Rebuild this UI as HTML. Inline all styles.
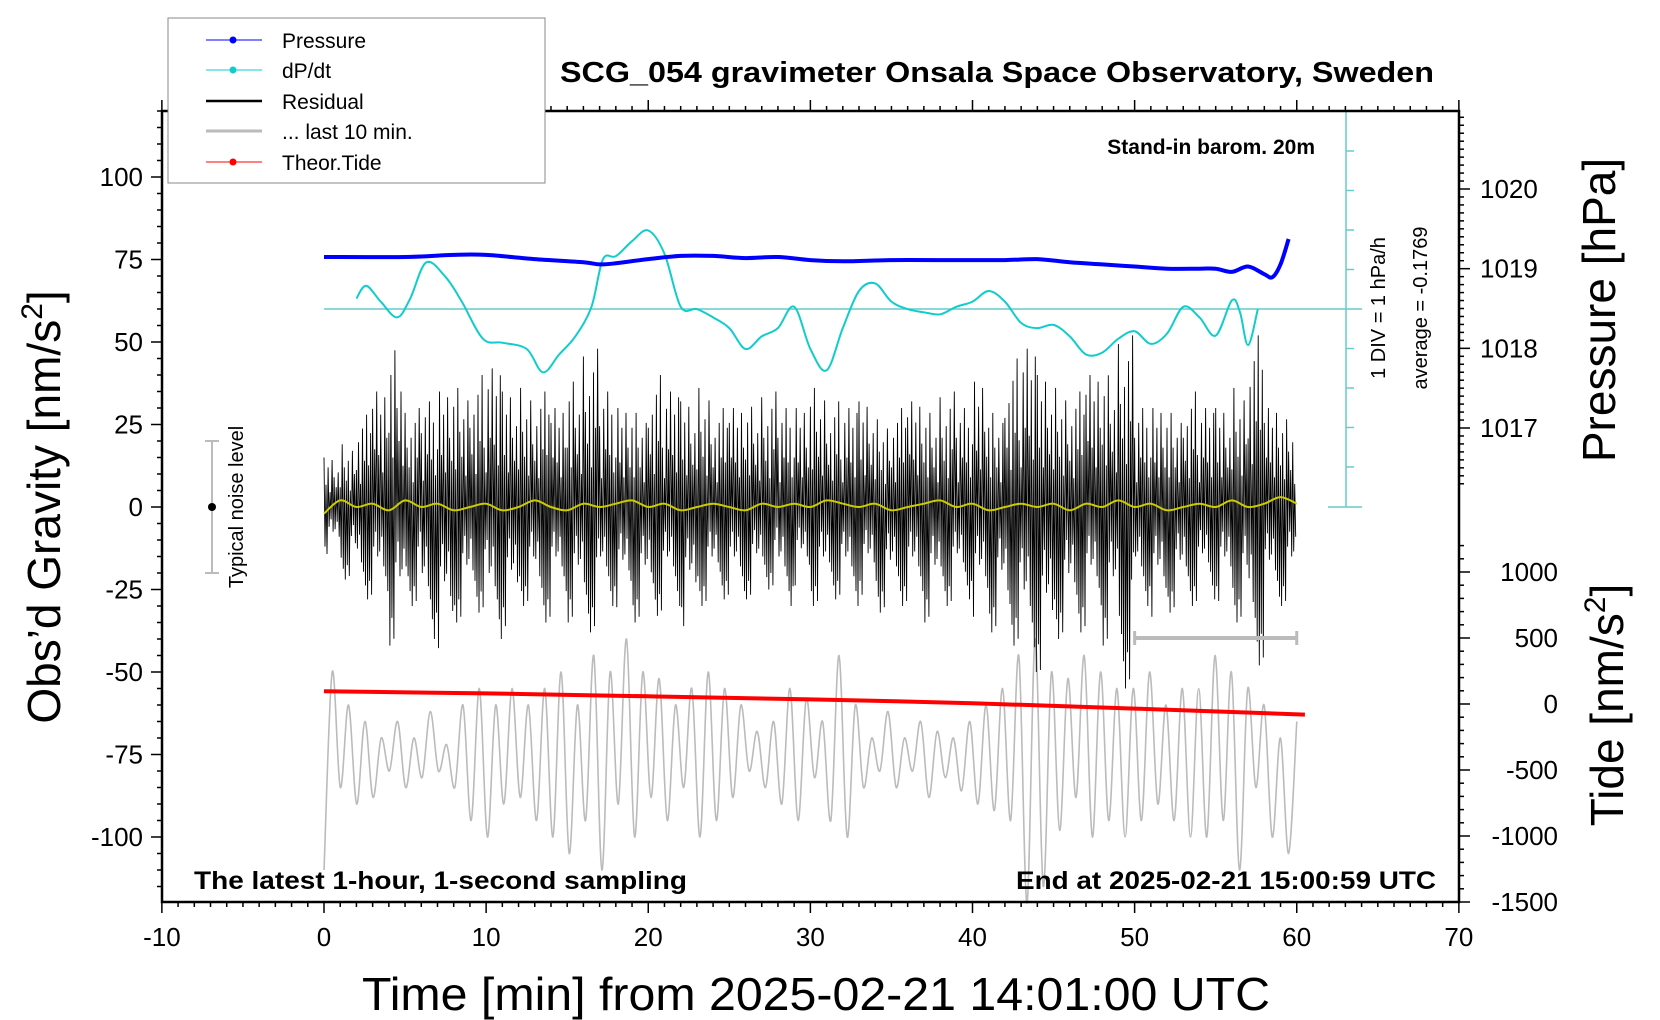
<!DOCTYPE html>
<html><head><meta charset="utf-8"><style>
html,body{margin:0;padding:0;background:#fff}
svg{display:block;font-family:"Liberation Sans",sans-serif}
</style></head><body>
<svg id="chart" width="1660" height="1020" viewBox="0 0 1660 1020" xmlns="http://www.w3.org/2000/svg">
<rect x="0" y="0" width="1660" height="1020" fill="#fff"/>
<g id="marks"></g>
<g id="axes"></g>
<g>
<text x="997" y="82" text-anchor="middle" font-size="29" font-weight="bold" textLength="874" lengthAdjust="spacingAndGlyphs">SCG_054 gravimeter Onsala Space Observatory, Sweden</text>
<text x="1315" y="154" text-anchor="end" font-size="21" font-weight="bold">Stand-in barom. 20m</text>
<text x="194" y="889" font-size="25" font-weight="bold" textLength="493" lengthAdjust="spacingAndGlyphs">The latest 1-hour, 1-second sampling</text>
<text x="1436" y="889" text-anchor="end" font-size="25" font-weight="bold" textLength="420" lengthAdjust="spacingAndGlyphs">End at 2025-02-21 15:00:59 UTC</text>
<text x="816" y="1010" text-anchor="middle" font-size="46" textLength="908" lengthAdjust="spacingAndGlyphs">Time [min] from 2025-02-21 14:01:00 UTC</text>
<text transform="translate(60,507) rotate(-90)" text-anchor="middle" font-size="46">Obs’d Gravity [nm/s<tspan font-size="30" dy="-18">2</tspan><tspan dy="18">]</tspan></text>
<text transform="translate(1615,310) rotate(-90)" text-anchor="middle" font-size="46">Pressure [hPa]</text>
<text transform="translate(1623,705) rotate(-90)" text-anchor="middle" font-size="46">Tide [nm/s<tspan font-size="30" dy="-18">2</tspan><tspan dy="18">]</tspan></text>
<text transform="translate(1385,308) rotate(-90)" text-anchor="middle" font-size="20">1 DIV = 1 hPa/h</text>
<text transform="translate(1427,308) rotate(-90)" text-anchor="middle" font-size="20">average = -0.1769</text>
<text transform="translate(243,507) rotate(-90)" text-anchor="middle" font-size="20">Typical noise level</text>
</g>
<g>
<rect x="168" y="18" width="377" height="165" fill="#fff" stroke="#888" stroke-width="1"/>
<g><line x1="206" y1="40" x2="262" y2="40" stroke="#00f" stroke-width="1"/><circle cx="233" cy="40" r="3.5" fill="#00f"/><text x="282" y="48" font-size="21">Pressure</text></g>
<g><line x1="206" y1="70" x2="262" y2="70" stroke="#1cc" stroke-width="1"/><circle cx="233" cy="70" r="3.5" fill="#1cc"/><text x="282" y="78" font-size="21">dP/dt</text></g>
<g><line x1="206" y1="101" x2="262" y2="101" stroke="#000" stroke-width="2.5"/><text x="282" y="109" font-size="21">Residual</text></g>
<g><line x1="206" y1="131" x2="262" y2="131" stroke="#bbb" stroke-width="3"/><text x="282" y="139" font-size="21">... last 10 min.</text></g>
<g><line x1="206" y1="162" x2="262" y2="162" stroke="#f00" stroke-width="1"/><circle cx="233" cy="162" r="3.5" fill="#f00"/><text x="282" y="170" font-size="21">Theor.Tide</text></g>
</g>
</svg>
<script>
// ---- data ----
const presMin = [0,5,8,10,13,16,17,18,20,22,24,26,28,30,32,35,38,40,42,44,46,48,50,52,54,55,56,57,58,58.5,59,59.5];
const presVal = [1019.147,1019.147,1019.173,1019.173,1019.12,1019.08,1019.053,1019.067,1019.12,1019.16,1019.16,1019.133,1019.147,1019.107,1019.093,1019.107,1019.107,1019.107,1019.107,1019.12,1019.08,1019.053,1019.027,1019.0,1019.0,1019.0,1018.96,1019.027,1018.93,1018.893,1019.053,1019.373];
const dpdtMin = [2,2.6,3.5,4.5,5.3,6.3,7.5,8.5,9.8,11,12.5,13.5,14.5,15.5,16.5,17.2,18,19,20,21,22,23,24,25,26,27,28,29,30,31,32,33,34,35,36,37,38,39,40,41,42,43,44,45,46,47,48,49,50,51,52,53,54,55,56,56.5,57,57.6];
const dpdtVal = [0.09,0.41,0.01,-0.39,0.07,1.00,0.63,0.01,-0.93,-1.03,-1.19,-1.78,-1.33,-0.87,-0.12,1.08,1.16,1.54,1.81,1.22,-0.12,-0.18,-0.39,-0.66,-1.19,-0.87,-0.66,-0.12,-1.19,-1.73,-0.66,0.28,0.47,0.01,-0.18,-0.26,-0.31,-0.12,0.01,0.28,0.01,-0.53,-0.66,-0.58,-0.87,-1.33,-1.28,-0.93,-0.74,-1.06,-0.80,-0.12,-0.39,-0.85,0.04,-0.26,-1.09,-0.18];
const dpdtAvg = -0.1769;
const tideMin = [0,10,20,30,40,50,60.5];
const tideVal = [96,80,58,35,5,-35,-80];
const resHigh = [15,20,28,35,50,30,32,35,38,40,42,35,38,35,30,40,48,35,30,30,40,35,32,38,30,30,32,35,30,30,38,32,30,32,28,30,32,30,35,30,38,30,45,48,40,38,35,40,42,52,30,30,30,35,30,30,38,52,30,28,25];
const resLow = [-15,-22,-28,-30,-42,-30,-40,-45,-35,-32,-40,-38,-30,-35,-30,-35,-38,-30,-32,-35,-33,-30,-38,-30,-28,-30,-28,-25,-30,-25,-30,-28,-30,-28,-32,-30,-30,-35,-30,-28,-35,-38,-42,-50,-52,-40,-38,-35,-42,-55,-30,-35,-32,-30,-28,-30,-35,-48,-32,-30,-45];
const smoothVal = [-2,2,0,1,-1,2,0,1,-1,0,1,-1,0,2,0,-1,1,0,1,2,0,1,-1,0,1,0,-1,1,0,1,0,2,1,0,1,-1,0,1,2,0,1,-1,0,1,0,1,-1,1,0,2,0,1,-1,0,1,0,2,0,1,3,1];
const lastVal = [-110,-50,-85,-60,-90,-65,-88,-70,-80,-65,-85,-70,-82,-62,-80,-72,-85,-60,-95,-55,-100,-60,-90,-55,-88,-60,-95,-55,-100,-50,-105,-60,-95,-45,-110,-50,-90,-40,-100,-50,-88,-52,-95,-60,-85,-55,-100,-50,-95,-55,-88,-60,-80,-68,-85,-65,-90,-55,-95,-58,-82,-65,-95,-45,-100,-60,-85,-70,-80,-62,-85,-70,-80,-65,-88,-68,-82,-70,-86,-65,-90,-60,-92,-55,-95,-45,-120,-40,-115,-50,-98,-52,-88,-45,-100,-50,-95,-55,-100,-55,-95,-50,-90,-60,-95,-55,-100,-55,-100,-45,-95,-50,-110,-55,-85,-60,-100,-70,-105,-65];
const xTicks = [-10,0,10,20,30,40,50,60,70];
const gTicks = [-100,-75,-50,-25,0,25,50,75,100];
const pTicks = [1017,1018,1019,1020];
const tTicks = [-1500,-1000,-500,0,500,1000];

// ---- scales ----
const X = m => 324 + m * 16.2125;
const Y = g => 507 - 3.3 * g;
const YP = p => 189 - (p - 1020) * 79.67;
const YT = t => 704 - 0.132 * t;
const YD = d => 309 - (d - dpdtAvg) * 39.5;
const NS = 'http://www.w3.org/2000/svg';
const marks = document.getElementById('marks');
const axes = document.getElementById('axes');
function mk(tag, attrs, parent) {
  const e = document.createElementNS(NS, tag);
  for (const k in attrs) e.setAttribute(k, attrs[k]);
  parent.appendChild(e);
  return e;
}
function smoothPath(pts) {
  let d = 'M' + pts[0][0].toFixed(1) + ',' + pts[0][1].toFixed(1);
  for (let i = 0; i < pts.length - 1; i++) {
    const p0 = pts[Math.max(0, i - 1)], p1 = pts[i], p2 = pts[i + 1], p3 = pts[Math.min(pts.length - 1, i + 2)];
    const c1x = p1[0] + (p2[0] - p0[0]) / 6, c1y = p1[1] + (p2[1] - p0[1]) / 6;
    const c2x = p2[0] - (p3[0] - p1[0]) / 6, c2y = p2[1] - (p3[1] - p1[1]) / 6;
    d += 'C' + c1x.toFixed(1) + ',' + c1y.toFixed(1) + ' ' + c2x.toFixed(1) + ',' + c2y.toFixed(1) + ' ' + p2[0].toFixed(1) + ',' + p2[1].toFixed(1);
  }
  return d;
}

// last 10 min (gray)
const lastPts = lastVal.map((v, i) => [X(i * 60 / (lastVal.length - 1)), Y(v)]);
const lastLine = mk('path', {d: smoothPath(lastPts), fill: 'none', stroke: '#bbb', 'stroke-width': 1.6}, marks);



// residual (black zigzag)
const pattern = [1, 0.45, 0.8, 0.3, 0.95, 0.6, 0.4, 0.7, 0.25, 0.85, 0.5];
let rd = '';
for (let i = 0; i < resHigh.length - 1; i++) {
  for (let j = 0; j < 8; j++) {
    const m = i + j / 8;
    const hv = resHigh[i] * pattern[(j + i * 3) % pattern.length];
    const lv = resLow[i] * pattern[(j * 2 + i * 5 + 2) % pattern.length];
    rd += (rd ? 'L' : 'M') + X(m).toFixed(1) + ',' + Y(hv).toFixed(1) + 'L' + X(m + 0.5 / 8).toFixed(1) + ',' + Y(lv).toFixed(1);
  }
}
const resLine = mk('path', {d: rd, fill: 'none', stroke: '#000', 'stroke-width': 0.9}, marks);



// smoothed residual (yellow)
const smPts = smoothVal.map((v, i) => [X(i * 60 / (smoothVal.length - 1)), Y(v)]);
const smLine = mk('path', {d: smoothPath(smPts), fill: 'none', stroke: '#cc0', 'stroke-width': 2}, marks);



// tide (red)
const tidePts = tideMin.map((m, i) => [X(m), YT(tideVal[i])]);
const tideLine = mk('path', {d: smoothPath(tidePts), fill: 'none', stroke: '#f00', 'stroke-width': 4}, marks);



// dP/dt average line + scale
const avgLine = mk('line', {x1: X(0), y1: YD(dpdtAvg), x2: 1362, y2: YD(dpdtAvg), stroke: '#6cc', 'stroke-width': 1.5}, marks);


const scaleG = mk('g', {stroke: '#6cc', 'stroke-width': 1.5}, marks);


mk('line', {x1: 1346, y1: 111, x2: 1346, y2: 507}, scaleG);
mk('line', {x1: 1328, y1: 507, x2: 1362, y2: 507}, scaleG);
mk('line', {x1: 1328, y1: 111, x2: 1362, y2: 111}, scaleG);
for (let k = -5; k <= 5; k++) {
  const yy = YD(dpdtAvg + k);
  if (yy > 112 && yy < 506 && k !== 0) mk('line', {x1: 1346, y1: yy, x2: 1354, y2: yy}, scaleG);
}

// dP/dt curve
const dPts = dpdtMin.map((m, i) => [X(m), YD(dpdtVal[i])]);
const dLine = mk('path', {d: smoothPath(dPts), fill: 'none', stroke: '#1cc', 'stroke-width': 2}, marks);



// pressure (blue)
const pPts = presMin.map((m, i) => [X(m), YP(presVal[i])]);
const pLine = mk('path', {d: smoothPath(pPts), fill: 'none', stroke: '#00f', 'stroke-width': 4}, marks);



// noise level bar
const nb = mk('g', {stroke: '#bbb', 'stroke-width': 2}, marks);


mk('line', {x1: 212, y1: Y(20), x2: 212, y2: Y(-20)}, nb);
mk('line', {x1: 205, y1: Y(20), x2: 219, y2: Y(20)}, nb);
mk('line', {x1: 205, y1: Y(-20), x2: 219, y2: Y(-20)}, nb);
mk('circle', {cx: 212, cy: Y(0), r: 4, fill: '#000', stroke: 'none'}, nb);

// last-10-min range bar
const rb = mk('g', {stroke: '#bbb', 'stroke-width': 4}, marks);


mk('line', {x1: X(50), y1: 638, x2: X(60), y2: 638}, rb);
mk('line', {x1: X(50), y1: 631, x2: X(50), y2: 645, 'stroke-width': 3}, rb);
mk('line', {x1: X(60), y1: 631, x2: X(60), y2: 645, 'stroke-width': 3}, rb);

// ---- axes ----
const frame = mk('rect', {x: 162, y: 111, width: 1297, height: 791, fill: 'none', stroke: '#000', 'stroke-width': 2.5}, axes);


const tg = mk('g', {stroke: '#000', 'stroke-width': 1.5}, axes);


for (let m = -10; m <= 70; m++) {
  const L = m % 10 === 0 ? 11 : 5;
  mk('line', {x1: X(m), y1: 902, x2: X(m), y2: 902 + L}, tg);
  mk('line', {x1: X(m), y1: 111, x2: X(m), y2: 111 - L}, tg);
}
for (let g = -115; g <= 120; g += 5) {
  const L = g % 25 === 0 ? 11 : 5;
  mk('line', {x1: 162, y1: Y(g), x2: 162 - L, y2: Y(g)}, tg);
}
for (let p = 10163; p <= 10209; p++) {
  const v = p / 10, L = p % 10 === 0 ? 11 : 5;
  mk('line', {x1: 1459, y1: YP(v), x2: 1459 + L, y2: YP(v)}, tg);
}
for (let t = -1500; t <= 1200; t += 100) {
  const L = t % 500 === 0 ? 11 : 5;
  mk('line', {x1: 1459, y1: YT(t), x2: 1459 + L, y2: YT(t)}, tg);
}
xTicks.forEach(v => {
  const t = mk('text', {x: X(v), y: 946, 'text-anchor': 'middle', 'font-size': 26}, axes);
  t.textContent = v;
  
  
});
gTicks.forEach(v => {
  const t = mk('text', {x: 143, y: Y(v) + 9, 'text-anchor': 'end', 'font-size': 26}, axes);
  t.textContent = v;
  
  
});
pTicks.forEach(v => {
  const t = mk('text', {x: 1480, y: YP(v) + 9, 'font-size': 26}, axes);
  t.textContent = v;
  
  
});
tTicks.forEach(v => {
  const t = mk('text', {x: 1558, y: YT(v) + 9, 'text-anchor': 'end', 'font-size': 26}, axes);
  t.textContent = v;
  
  
});
</script>
</body></html>
